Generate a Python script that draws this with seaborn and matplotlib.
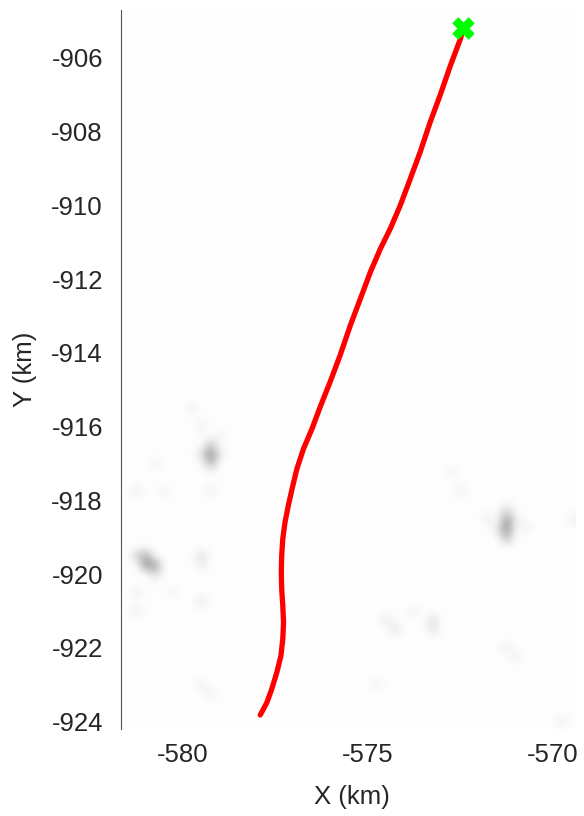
import numpy as np
import matplotlib
matplotlib.use('Agg')
import matplotlib.pyplot as plt
import seaborn as sns

# drift track (km), newest point first
track_x = [-572.42, -572.49, -572.76, -573.04, -573.31, -573.58, -573.85, -574.12,
           -574.39, -574.66, -574.93, -575.20, -575.47, -575.75, -576.02, -576.29,
           -576.51, -576.74, -576.92, -577.05, -577.15, -577.24, -577.30, -577.33,
           -577.34, -577.33, -577.30, -577.28, -577.30, -577.35, -577.46, -577.60,
           -577.73, -577.91]
track_y = [-905.20, -905.48, -906.20, -907.01, -907.74, -908.55, -909.28, -910.00,
           -910.63, -911.18, -911.81, -912.53, -913.25, -914.07, -914.79, -915.47,
           -916.06, -916.60, -917.15, -917.69, -918.14, -918.59, -919.04, -919.50,
           -919.95, -920.40, -920.85, -921.31, -921.76, -922.21, -922.66, -923.12,
           -923.48, -923.82]

# faint background echoes (cell centre x, y in km, relative intensity 0..1)
echo_x = [-579.25, -579.25, -579.25, -579.5, -579.0,
          -581.0, -581.0, -580.75, -581.25, -580.75, -579.5, -579.5,
          -571.25, -571.25, -571.25, -571.25, -571.5, -571.0,
          -579.75, -579.5, -579.0, -580.75, -581.25, -580.5, -579.25,
          -581.25, -581.25, -579.5, -580.25, -579.5, -579.25,
          -572.75, -572.5, -571.75, -570.75,
          -574.5, -574.25, -573.25, -573.25, -573.75,
          -571.25, -571.0, -574.75, -569.75, -569.5]
echo_y = [-916.5, -916.75, -917.0, -916.75, -916.75,
          -919.5, -919.75, -919.75, -919.5, -920.0, -919.5, -919.75,
          -918.25, -918.5, -918.75, -919.0, -918.75, -918.5,
          -915.5, -916.0, -916.25, -917.0, -917.75, -917.75, -917.75,
          -920.5, -921.0, -920.75, -920.5, -923.0, -923.25,
          -917.25, -917.75, -918.5, -918.75,
          -921.25, -921.5, -921.25, -921.5, -921.0,
          -922.0, -922.25, -923.0, -924.0, -918.5]
echo_val = [0.22, 0.45, 0.28, 0.12, 0.08,
            0.32, 0.42, 0.36, 0.18, 0.14, 0.12, 0.08,
            0.14, 0.36, 0.45, 0.28, 0.08, 0.08,
            0.06, 0.07, 0.06, 0.06, 0.08, 0.06, 0.07,
            0.07, 0.08, 0.09, 0.05, 0.07, 0.06,
            0.06, 0.07, 0.08, 0.07,
            0.09, 0.11, 0.13, 0.11, 0.06,
            0.07, 0.06, 0.06, 0.08, 0.06]

x_ticks = [-580, -575, -570]
y_ticks = [-906, -908, -910, -912, -914, -916, -918, -920, -922, -924]

sns.set_style('white')
plt.rcParams['font.family'] = ['Liberation Sans', 'DejaVu Sans']
plt.rcParams['axes.unicode_minus'] = False
txt = '#262626'

fig = plt.figure(figsize=(5.84, 8.16), dpi=100)
ax = fig.add_axes([121 / 584, 87 / 816, 461 / 584, 719 / 816])

# background image grid
step = 0.25
gx = np.arange(-581.75, -569.49, step)
gy = np.arange(-924.25, -904.74, step)
img = np.full((len(gy), len(gx)), 0.008)
for ex, ey, ev in zip(echo_x, echo_y, echo_val):
    ix = int(round((ex - gx[0]) / step))
    iy = int(round((ey - gy[0]) / step))
    img[iy, ix] = ev
ax.imshow(img, cmap='gray_r', vmin=0, vmax=1, origin='lower', interpolation='bicubic',
          extent=[gx[0] - step / 2, gx[-1] + step / 2, gy[0] - step / 2, gy[-1] + step / 2],
          aspect='auto', zorder=0)

sns.lineplot(x=track_x, y=track_y, sort=False, estimator=None, color='red',
             lw=3.8, ax=ax, zorder=2, solid_capstyle='round', solid_joinstyle='round')
sns.scatterplot(x=track_x[:1], y=track_y[:1], marker='X', color='#00ff00', s=220,
                edgecolor='#00ff00', linewidth=1.0, ax=ax, zorder=3)

ax.set_xlim(-581.68, -569.2)
ax.set_ylim(-924.2, -904.7)
ax.set_xticks(x_ticks)
ax.set_yticks(y_ticks)
ax.tick_params(axis='y', direction='in', length=3, width=0.8, color='#555555',
               pad=13, labelsize=18.5, labelcolor=txt)
ax.tick_params(axis='x', length=0, pad=10, labelsize=18.5, labelcolor=txt)

for side in ['top', 'right', 'bottom']:
    ax.spines[side].set_visible(False)
ax.spines['left'].set_color('#555555')
ax.spines['left'].set_linewidth(0.8)

ax.set_xlabel('X (km)', fontsize=18.5, color=txt)
ax.set_ylabel('Y (km)', fontsize=18.5, color=txt)
ax.xaxis.set_label_coords(0.5, -0.078)
ax.yaxis.set_label_coords(-0.182, 0.5)

fig.savefig('out.png', dpi=100, facecolor='white')
